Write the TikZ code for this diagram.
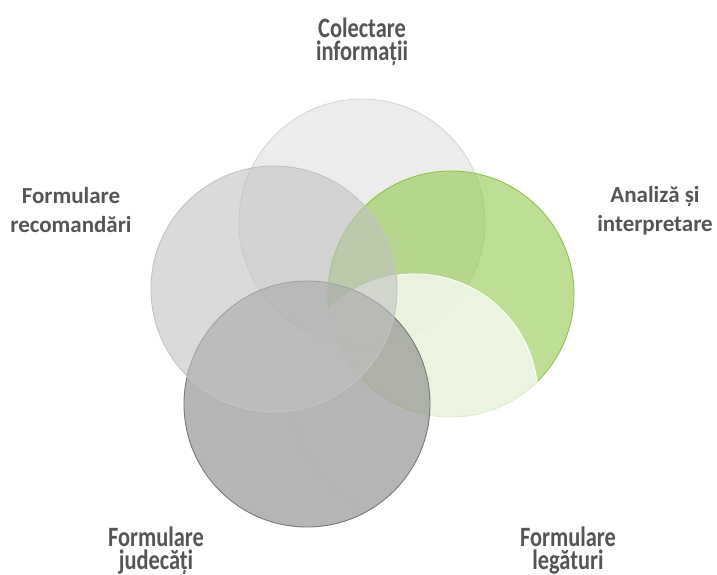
\documentclass[tikz,border=0pt]{standalone}
\usepackage{fontspec}
\setmainfont{Carlito}
\newfontfamily\narrowfont{Carlito}[FakeStretch=0.8]
\begin{document}
\begin{tikzpicture}[x=1pt,y=-1pt,
  petal/.style={circle,minimum size=246pt,inner sep=0pt,fill opacity=0.6,line width=0.9pt},
  lbl/.style={align=center,text=labelgray,inner sep=0pt,font=\bfseries\fontsize{23}{29}\selectfont},
  lblnarrow/.style={align=center,text=labelgray,inner sep=0pt,font=\narrowfont\bfseries\fontsize{28}{23}\selectfont}]
\definecolor{labelgray}{RGB}{85,85,85}
\definecolor{topfill}{RGB}{223,223,223}
\definecolor{topedge}{RGB}{214,214,214}
\definecolor{leftfill}{RGB}{193,193,193}
\definecolor{leftedge}{RGB}{196,196,196}
\definecolor{darkfill}{RGB}{132,132,132}
\definecolor{darkedge}{RGB}{120,120,120}
\definecolor{greenfill}{RGB}{147,200,80}
\definecolor{greenedge}{RGB}{140,198,70}
\useasboundingbox (0,0) rectangle (717,575);
% petals, drawn clockwise from the top
\node[petal,fill=topfill,draw=topedge] (c1) at (362,222) {};
\node[petal,fill=greenfill,draw=greenedge] (c2) at (451,294) {};
\node[petal,fill=white,fill opacity=0.7,draw=white] (c3) at (415,397) {};
\node[petal,fill=darkfill,draw=darkedge] (c4) at (307,404) {};
\node[petal,fill=leftfill,draw=leftedge] (c5) at (274,289) {};
% labels (anchored on the baseline of their second line)
\node[lblnarrow,anchor=base] (t1) at (362,61) {Colectare\\informații};
\node[lbl,anchor=base] (t2) at (655,231) {Analiză și\\interpretare};
\node[lblnarrow,anchor=base] (t3) at (568,569) {Formulare\\legături};
\node[lblnarrow,anchor=base] (t4) at (156,569) {Formulare\\judecăți};
\node[lbl,anchor=base] (t5) at (71,232) {Formulare\\recomandări};
\end{tikzpicture}
\end{document}
